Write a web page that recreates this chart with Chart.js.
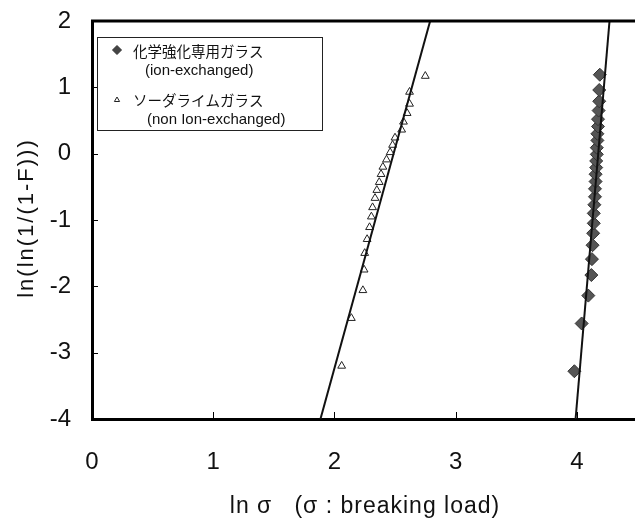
<!DOCTYPE html>
<html><head><meta charset="utf-8">
<script src="https://cdn.jsdelivr.net/npm/chart.js@4/dist/chart.umd.min.js"></script>
<style>
html,body{margin:0;padding:0;background:#fff;overflow:hidden;width:635px;height:522px;}
#wrap{position:relative;width:720px;height:522px;}
canvas{display:block;}
</style></head><body>
<div id="wrap"><canvas id="c" width="720" height="522"></canvas></div>
<script>
// ---- data ----
const ionX = [3.98, 4.04, 4.095, 4.12, 4.125, 4.13, 4.135, 4.14, 4.14, 4.145, 4.15, 4.15, 4.155, 4.155, 4.16, 4.16, 4.165, 4.165, 4.17, 4.17, 4.175, 4.175, 4.18, 4.185, 4.185, 4.19];
const ionY = [-3.28, -2.56, -2.14, -1.83, -1.59, -1.38, -1.20, -1.05, -0.90, -0.77, -0.65, -0.53, -0.42, -0.31, -0.21, -0.11, -0.01, 0.09, 0.20, 0.30, 0.41, 0.52, 0.65, 0.79, 0.96, 1.19];
const sodaX = [2.06, 2.14, 2.235, 2.245, 2.25, 2.27, 2.29, 2.305, 2.315, 2.335, 2.35, 2.37, 2.385, 2.40, 2.43, 2.46, 2.48, 2.50, 2.555, 2.57, 2.60, 2.62, 2.62, 2.75];
const sodaY = [-3.20, -2.48, -2.06, -1.75, -1.50, -1.29, -1.11, -0.95, -0.81, -0.67, -0.55, -0.43, -0.31, -0.20, -0.09, 0.02, 0.13, 0.24, 0.36, 0.48, 0.61, 0.75, 0.93, 1.17];
const ionFitX = [3.99, 4.27];
const ionFitY = [-4, 2];
const sodaFitX = [1.885, 2.79];
const sodaFitY = [-4, 2];
const xTicks = [0, 1, 2, 3, 4, 5];
const yTicks = [-4, -3, -2, -1, 0, 1, 2];
const legendLabels = [["化学強化専用ガラス", "(ion-exchanged)"], ["ソーダライムガラス", "(non Ion-exchanged)"]];
const xTitle = "ln σ   (σ : breaking load)";
const yTitle = "ln(ln(1/(1-F)))";

const pts = (xs, ys) => xs.map((x, i) => ({x: x, y: ys[i]}));
const FONT = '"Liberation Sans", Arial, sans-serif';

const framePlugin = {
  id: 'frame',
  afterDraw(chart) {
    const {ctx, chartArea: a, scales} = chart;
    ctx.save();
    ctx.strokeStyle = '#000';
    ctx.lineWidth = 3;
    ctx.beginPath();
    ctx.moveTo(a.left - 1, a.top); ctx.lineTo(a.right, a.top);
    ctx.moveTo(a.right, a.top); ctx.lineTo(a.right, a.bottom);
    ctx.stroke();
    // inward ticks
    ctx.lineWidth = 1;
    ctx.beginPath();
    xTicks.forEach(v => {
      if (v <= scales.x.min || v >= scales.x.max) return;
      const px = Math.round(scales.x.getPixelForValue(v)) + 0.5;
      ctx.moveTo(px, a.bottom); ctx.lineTo(px, a.bottom - 7);
    });
    yTicks.forEach(v => {
      if (v <= scales.y.min || v >= scales.y.max) return;
      const py = Math.round(scales.y.getPixelForValue(v)) + 0.5;
      ctx.moveTo(a.left, py); ctx.lineTo(a.left + 6, py);
    });
    ctx.stroke();
    // axis titles
    ctx.fillStyle = '#111';
    ctx.textAlign = 'center';
    ctx.textBaseline = 'middle';
    ctx.font = '23px ' + FONT;
    ctx.letterSpacing = '1px';
    ctx.fillText(xTitle, 365, 507);
    ctx.save();
    ctx.font = '22px ' + FONT;
    ctx.letterSpacing = '2px';
    ctx.translate(27, 218);
    ctx.rotate(-Math.PI / 2);
    ctx.fillText(yTitle, 0, 0);
    ctx.restore();
    ctx.letterSpacing = '0px';
    // legend
    ctx.lineWidth = 1;
    ctx.strokeStyle = '#222';
    ctx.fillStyle = '#fff';
    ctx.fillRect(97.5, 37.5, 225, 93);
    ctx.strokeRect(97.5, 37.5, 225, 93);
    ctx.fillStyle = '#444'; ctx.strokeStyle = '#333';
    Chart.helpers.drawPoint(ctx, {pointStyle: 'rectRot', radius: 4.5, borderWidth: 1}, 117, 50);
    ctx.fillStyle = '#fff'; ctx.strokeStyle = '#222';
    Chart.helpers.drawPoint(ctx, {pointStyle: 'triangle', radius: 3, borderWidth: 1}, 117, 100);
    ctx.fillStyle = '#111';
    ctx.textAlign = 'left';
    ctx.font = '14.5px "Noto Sans CJK JP", sans-serif';
    ctx.fillText(legendLabels[0][0], 133, 51);
    ctx.fillText(legendLabels[1][0], 133, 100);
    ctx.font = '15px ' + FONT;
    ctx.fillText(legendLabels[0][1], 145, 71);
    ctx.fillText(legendLabels[1][1], 147, 120);
    ctx.restore();
  }
};

new Chart(document.getElementById('c'), {
  type: 'scatter',
  data: {
    datasets: [
      {label: 'soda fit', data: pts(sodaFitX, sodaFitY), showLine: true, borderColor: '#111', borderWidth: 2, pointRadius: 0},
      {label: 'ion fit', data: pts(ionFitX, ionFitY), showLine: true, borderColor: '#111', borderWidth: 2, pointRadius: 0},
      {label: legendLabels[1].join(' '), data: pts(sodaX, sodaY), pointStyle: 'triangle', pointRadius: 4.5, backgroundColor: 'rgba(255,255,255,0.6)', borderColor: '#222', borderWidth: 1},
      {label: legendLabels[0].join(' '), data: pts(ionX, ionY), pointStyle: 'rectRot', pointRadius: 6.5, backgroundColor: '#555', borderColor: '#333', borderWidth: 1}
    ]
  },
  options: {
    responsive: false,
    animation: false,
    devicePixelRatio: 1,
    layout: {padding: {top: 21, right: 22, left: 0, bottom: 0}},
    plugins: {legend: {display: false}, tooltip: {enabled: false}},
    scales: {
      x: {
        type: 'linear', min: 0, max: 5,
        afterBuildTicks: s => { s.ticks = xTicks.map(v => ({value: v})); },
        afterFit: s => { s.height = 103; s.paddingLeft = 0; s.paddingRight = 0; },
        grid: {display: false, drawTicks: false},
        border: {display: true, color: '#000', width: 3},
        ticks: {font: {size: 24, family: FONT}, color: '#111', padding: 29,
                callback: v => (v >= 5 ? '' : String(v))}
      },
      y: {
        type: 'linear', min: -4, max: 2,
        afterBuildTicks: s => { s.ticks = yTicks.map(v => ({value: v})); },
        afterFit: s => { s.width = 92; s.paddingTop = 0; s.paddingBottom = 0; },
        grid: {display: false, drawTicks: false},
        border: {display: true, color: '#000', width: 3},
        ticks: {font: {size: 24, family: FONT}, color: '#111', padding: 21}
      }
    }
  },
  plugins: [framePlugin]
});
</script>
</body></html>
